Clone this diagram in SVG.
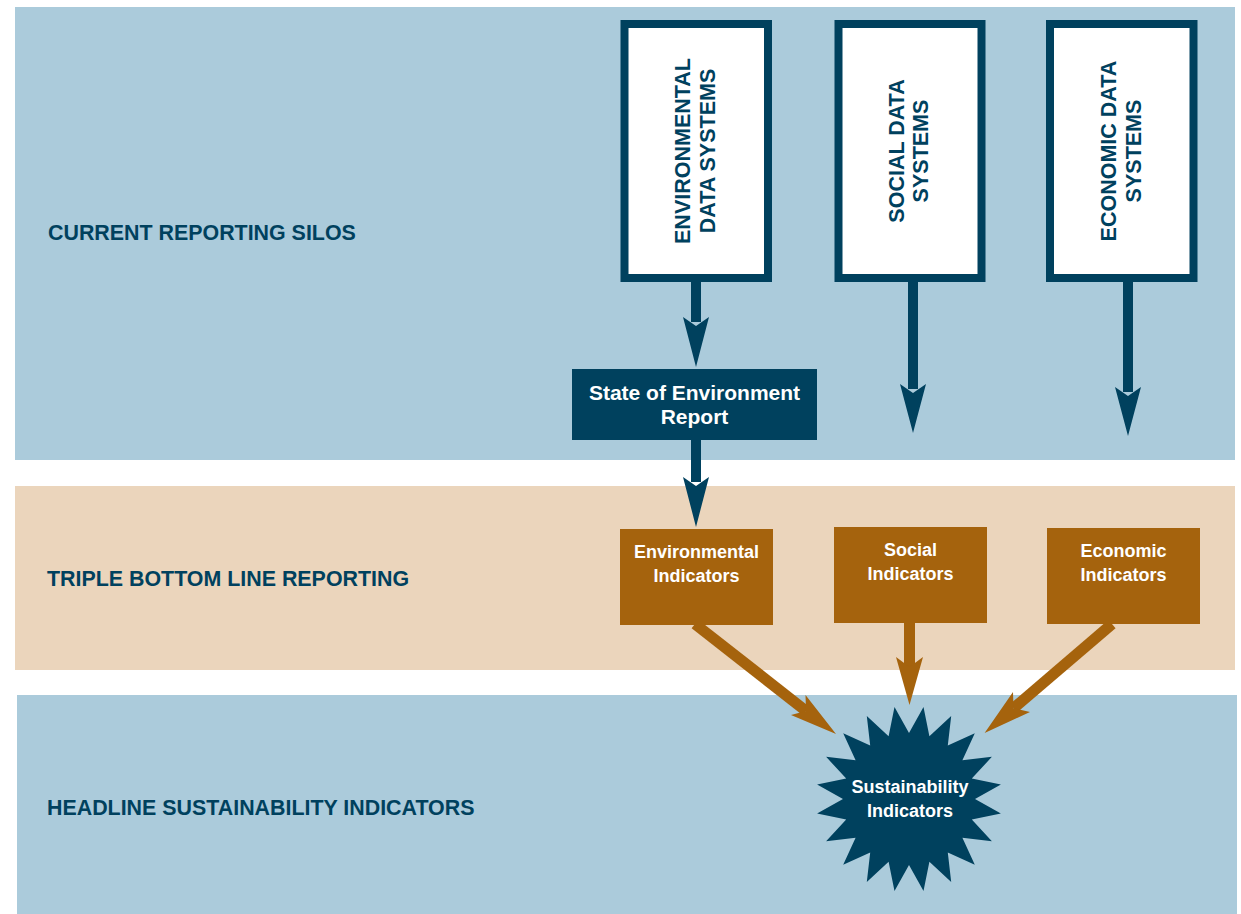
<svg xmlns="http://www.w3.org/2000/svg" width="1241" height="914" viewBox="0 0 1241 914">
<style>
.band-blue{fill:#ABCBDB}
.band-tan{fill:#EBD5BC}
.lbl{font-family:"Liberation Sans",Arial,sans-serif;font-weight:bold;font-size:21.4px;fill:#00415E}
.silo{fill:#FFFFFF;stroke:#00415E;stroke-width:8}
.vt{font-family:"Liberation Sans",Arial,sans-serif;font-weight:bold;font-size:21.5px;fill:#00415E;text-anchor:middle}
.wt{font-family:"Liberation Sans",Arial,sans-serif;font-weight:bold;fill:#FFFFFF;text-anchor:middle}
.dk{fill:#00415E}
.br{fill:#A5630D}
.dstem{stroke:#00415E;stroke-width:10;fill:none}
.bstem{stroke:#A5630D;stroke-width:11;fill:none}
</style>
<rect width="1241" height="914" fill="#FFFFFF"/>
<g id="bands">
<rect class="band-blue" x="15" y="7" width="1220" height="453"/>
<rect class="band-tan" x="15" y="486" width="1220" height="184"/>
<rect class="band-blue" x="17" y="695" width="1220" height="219"/>
<text class="lbl" x="48" y="240">CURRENT REPORTING SILOS</text>
<text class="lbl" x="47" y="586">TRIPLE BOTTOM LINE REPORTING</text>
<text class="lbl" x="47" y="815">HEADLINE SUSTAINABILITY INDICATORS</text>
</g>
<g id="connectors">
<line class="dstem" x1="696" y1="282" x2="696" y2="322"/>
<polygon class="dk" points="683,317 696,326 709,317 696,367"/>
<line class="dstem" x1="913" y1="282" x2="913" y2="389"/>
<polygon class="dk" points="900,384 913,393 926,384 913,433"/>
<line class="dstem" x1="1128" y1="282" x2="1128" y2="392"/>
<polygon class="dk" points="1115,387 1128,396 1141,387 1128,436"/>
<line class="dstem" x1="696" y1="440" x2="696" y2="482"/>
<polygon class="dk" points="683,477 696,486 709,477 696,527"/>
<line class="bstem" x1="695" y1="624" x2="806" y2="711"/>
<polygon class="br" points="836,734 791,715 806,711 805.5,695"/>
<line class="bstem" x1="909.5" y1="623" x2="909.5" y2="667"/>
<polygon class="br" points="896,657 909.5,667 923,657 909.5,705"/>
<line class="bstem" x1="1112" y1="624" x2="1013.5" y2="708.3"/>
<polygon class="br" points="984.6,733 1013,692 1013.5,708.3 1030,712"/>
</g>
<g id="env-silo">
<rect class="silo" x="624.5" y="24" width="143.5" height="254"/>
<text class="vt" transform="translate(690,151) rotate(-90)">ENVIRONMENTAL</text>
<text class="vt" transform="translate(715,151) rotate(-90)">DATA SYSTEMS</text>
</g>
<g id="social-silo">
<rect class="silo" x="838.5" y="24" width="143" height="254"/>
<text class="vt" transform="translate(904,151) rotate(-90)">SOCIAL DATA</text>
<text class="vt" transform="translate(928,151) rotate(-90)">SYSTEMS</text>
</g>
<g id="econ-silo">
<rect class="silo" x="1050" y="24" width="143.5" height="254"/>
<text class="vt" transform="translate(1116,151) rotate(-90)">ECONOMIC DATA</text>
<text class="vt" transform="translate(1141,151) rotate(-90)">SYSTEMS</text>
</g>
<g id="soe-report">
<rect class="dk" x="572" y="369" width="245" height="71"/>
<text class="wt" font-size="21" x="694.5" y="400">State of Environment</text>
<text class="wt" font-size="21" x="694.5" y="424">Report</text>
</g>
<g id="env-indicators">
<rect class="br" x="620" y="529" width="153" height="96"/>
<text class="wt" font-size="18" x="696.5" y="558">Environmental</text>
<text class="wt" font-size="18" x="696.5" y="582">Indicators</text>
</g>
<g id="social-indicators">
<rect class="br" x="834" y="527" width="153" height="96"/>
<text class="wt" font-size="18" x="910.5" y="556">Social</text>
<text class="wt" font-size="18" x="910.5" y="580">Indicators</text>
</g>
<g id="econ-indicators">
<rect class="br" x="1047" y="528" width="153" height="96"/>
<text class="wt" font-size="18" x="1123.5" y="557">Economic</text>
<text class="wt" font-size="18" x="1123.5" y="581">Indicators</text>
</g>
<g id="sustainability">
<polygon class="dk" points="923.5,707.1 929.4,736.2 951.2,716.1 947.8,745.6 974.8,733.2 962.4,760.2 991.9,756.8 971.8,778.6 1000.9,784.5 975,799 1000.9,813.5 971.8,819.4 991.9,841.2 962.4,837.8 974.8,864.8 947.8,852.4 951.2,881.9 929.4,861.8 923.5,890.9 909,865 894.5,890.9 888.6,861.8 866.8,881.9 870.2,852.4 843.2,864.8 855.6,837.8 826.1,841.2 846.2,819.4 817.1,813.5 843,799 817.1,784.5 846.2,778.6 826.1,756.8 855.6,760.2 843.2,733.2 870.2,745.6 866.8,716.1 888.6,736.2 894.5,707.1 909,733"/>
<text class="wt" font-size="18" x="910" y="793">Sustainability</text>
<text class="wt" font-size="18" x="910" y="817">Indicators</text>
</g>
</svg>
